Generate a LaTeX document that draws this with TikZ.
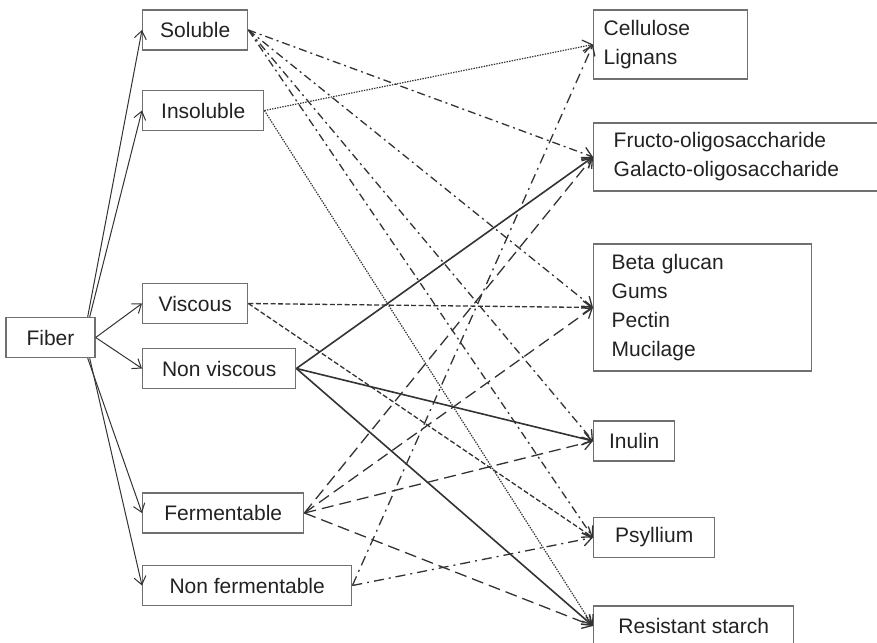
\documentclass[tikz,border=0pt]{standalone}
\usepackage{fontspec}
\setmainfont{Liberation Sans}
\usepackage{tikz}
\usetikzlibrary{arrows.meta}
\definecolor{linegray}{HTML}{333333}
\definecolor{boxgray}{HTML}{707070}
\definecolor{textgray}{HTML}{222222}
\tikzset{box/.style = {draw=boxgray, line width=0.7pt, text=textgray, anchor=west,
    minimum height=20pt, inner sep=0pt, font=\fontsize{10.5}{14.5}\selectfont}}
\tikzset{listbox/.style = {box, align=left}}
\tikzset{link/.style = {draw=linegray, line width=0.65pt,
    -{Straight Barb[length=4.5pt, width=6.5pt]}}}
\tikzset{branch/.style = {draw=linegray, line width=0.5pt,
    -{Straight Barb[length=4pt, width=6pt]}}}
\tikzset{soluble line/.style = {link, dash pattern=on 4pt off 2pt on 1pt off 2pt}}
\tikzset{insoluble line/.style = {link, line width=0.6pt, dash pattern=on 0.7pt off 0.6pt}}
\tikzset{viscous line/.style = {link, dash pattern=on 2.5pt off 1.2pt}}
\tikzset{nonviscous line/.style = {link, line width=0.8pt}}
\tikzset{ferm line/.style = {link, dash pattern=on 6pt off 3pt}}
\tikzset{nonferm line/.style = {link, dash pattern=on 5pt off 2.5pt on 1pt off 2.5pt}}

\begin{document}
\begin{tikzpicture}[x=0.5pt, y=-0.5pt]
    \useasboundingbox (0, 0) rectangle (877, 642);

    % left column
    \node [box, anchor=center, minimum width=44.5pt] (fiber) at (50.5, 337.5) {Fiber};
    \node [box, minimum width=52.5pt] (soluble) at (142, 30) {Soluble};
    \node [box, minimum width=60.5pt] (insoluble) at (142, 110.5) {Insoluble};
    \node [box, minimum width=52.5pt] (viscous) at (142, 303.5) {Viscous};
    \node [box, minimum width=76.5pt] (nonviscous) at (142, 368.5) {Non viscous};
    \node [box, minimum width=80.5pt] (ferm) at (142, 513) {Fermentable};
    \node [box, minimum width=104.5pt] (nonferm) at (142, 585.5) {Non fermentable};

    % right column
    \node [listbox, inner xsep=5pt, text width=67pt, minimum height=34.5pt] (cellulose) at (593, 44.5)
      {Cellulose\\Lignans};
    \node [listbox, inner xsep=10pt, text width=124pt, minimum height=34pt] (fos) at (593, 157)
      {Fructo-oligosaccharide\\Galacto-oligosaccharide};
    \node [listbox, inner xsep=9pt, text width=91pt, minimum height=63.5pt] (beta) at (593, 307.5)
      {Beta glucan\\Gums\\Pectin\\Mucilage};
    \node [box, minimum width=40.5pt] (inulin) at (593, 441) {Inulin};
    \node [box, minimum width=60.5pt] (psyllium) at (593, 537.5) {Psyllium};
    \node [box, minimum width=100pt] (rstarch) at (593, 626) {Resistant starch};

    % fiber branches
    \draw [branch] ([xshift=-4pt]fiber.north east) -- (soluble.west);
    \draw [branch] ([xshift=-3pt]fiber.north east) -- (insoluble.west);
    \draw [branch] (fiber.east) -- (viscous.west);
    \draw [branch] (fiber.east) -- (nonviscous.west);
    \draw [branch] ([xshift=-4pt]fiber.south east) -- (ferm.west);
    \draw [branch] ([xshift=-3pt]fiber.south east) -- (nonferm.west);

    % soluble
    \draw [soluble line] (soluble.east) -- (fos.west);
    \draw [soluble line] (soluble.east) -- (beta.west);
    \draw [soluble line] (soluble.east) -- (inulin.west);
    \draw [soluble line] (soluble.east) -- (psyllium.west);

    % insoluble
    \draw [insoluble line] (insoluble.east) -- (cellulose.west);
    \draw [insoluble line] (insoluble.east) -- (rstarch.west);

    % viscous
    \draw [viscous line] (viscous.east) -- (beta.west);
    \draw [viscous line] (viscous.east) -- (psyllium.west);

    % non viscous
    \draw [nonviscous line] (nonviscous.east) -- (fos.west);
    \draw [nonviscous line] (nonviscous.east) -- (inulin.west);
    \draw [nonviscous line] (nonviscous.east) -- (rstarch.west);

    % fermentable
    \draw [ferm line] (ferm.east) -- (fos.west);
    \draw [ferm line] (ferm.east) -- (beta.west);
    \draw [ferm line] (ferm.east) -- (inulin.west);
    \draw [ferm line] (ferm.east) -- (rstarch.west);

    % non fermentable
    \draw [nonferm line] (nonferm.east) -- (cellulose.west);
    \draw [nonferm line] (nonferm.east) -- (psyllium.west);

  \end{tikzpicture}
\end{document}
